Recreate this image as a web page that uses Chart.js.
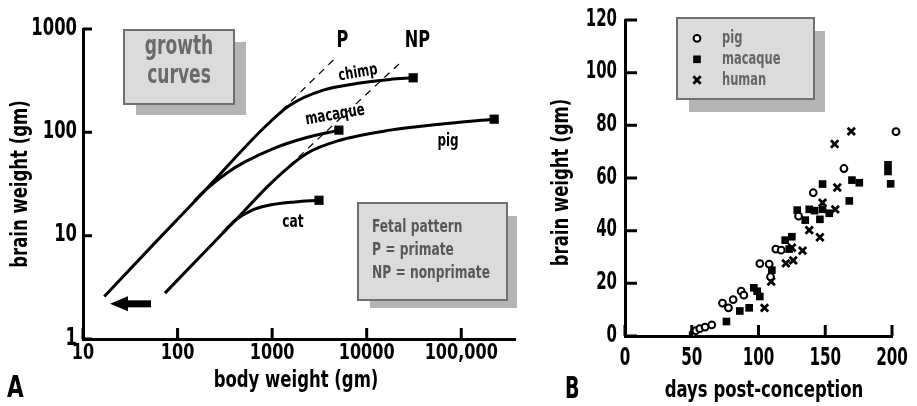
<!DOCTYPE html>
<html>
<head>
<meta charset="utf-8">
<script src="https://cdn.jsdelivr.net/npm/chart.js@4.4.1/dist/chart.umd.min.js"></script>
<style>
  html, body { margin: 0; padding: 0; background: #fff; }
  body { width: 917px; height: 406px; position: relative; overflow: hidden; }
  canvas { position: absolute; top: 0; }
  #chartA { left: 0; }
  #chartB { left: 540px; }
</style>
</head>
<body>
<canvas id="chartA" width="540" height="406"></canvas>
<canvas id="chartB" width="377" height="406"></canvas>
<script>
// heavy condensed face, squeezed a bit more to get the tall narrow look
const FONT = '"DejaVu Sans Condensed", "DejaVu Sans", sans-serif';

// ---- panel A : growth curves (log body weight vs log brain weight)
const xTicksA = [10, 100, 1000, 10000, 100000];
const xLabelsA = ['10', '100', '1000', '10000', '100,000'];
const yTicksA = [1, 10, 100, 1000];
const yLabelsA = ['1', '10', '100', '1000'];

const chimpBody = [16.8, 60, 195, 805, 1540, 3470, 7820, 17600, 31000];
const chimpBrain = [2.58, 8.85, 27.4, 109, 183, 256, 297, 325, 337];
const macaqueBody = [150, 195, 344, 515, 1030, 2320, 5080];
const macaqueBrain = [21.5, 27.4, 41.3, 51.7, 69.7, 89, 105];
const pigBody = [73.6, 180, 439, 1000, 2320, 5210, 17600, 59400, 223000];
const pigBrainA = [2.78, 6.5, 15.1, 33, 62.3, 83.8, 105, 120, 134];
const catBody = [300, 400, 607, 874, 1740, 3130];
const catBrain = [10.6, 13.9, 17.6, 19.5, 21.2, 22];
// fetal pattern extrapolations
const pBody = [805, 4610];
const pBrain = [109, 519];
const npBody = [948, 24300];
const npBrain = [31.9, 500];
// arrow, tail -> tip
const arrowBody = [52.4, 19.3];
const arrowBrain = [2.19, 2.19];

// ---- panel B : brain weight vs days post-conception
const xTicksB = [0, 50, 100, 150, 200];
const xLabelsB = ['0', '50', '100', '150', '200'];
const yTicksB = [0, 20, 40, 60, 80, 100, 120];
const yLabelsB = ['0', '20', '40', '60', '80', '100', '120'];

const pigDays = [51, 53, 56, 60, 65, 73, 77.5, 81, 87, 89, 101, 108, 109, 113, 117, 130, 141, 164, 203];
const pigBrain = [1, 2, 2.8, 3.4, 4.2, 12.5, 10.7, 13.8, 17, 15.5, 27.5, 27.3, 22.5, 33, 32.6, 45.5, 54.4, 63.6, 77.6];
const macDays = [76, 86, 93, 96.5, 99, 101, 110, 120, 123, 125, 129, 135, 138, 142, 146, 148, 148, 153, 168, 170, 175.5, 197, 197, 199];
const macBrain = [5.5, 9.5, 10.7, 18.3, 17, 15, 25, 36.4, 33, 37.7, 47.8, 44, 48.1, 47.6, 44.3, 57.7, 48.1, 46.6, 51.3, 59.2, 58.2, 62.5, 65, 57.8];
const humanDays = [104.5, 109.5, 120.5, 125, 126, 133, 138, 146, 148, 157.5, 157, 159, 169.5];
const humanBrain = [10.7, 20.7, 27.6, 33.5, 28.7, 32.4, 40.2, 37.5, 50.6, 48.1, 72.9, 56.4, 77.7];

const pts = (xs, ys) => xs.map((x, i) => ({ x: x, y: ys[i] }));

function curve(label, xs, ys) {
  const last = xs.length - 1;
  return {
    label: label,
    data: pts(xs, ys),
    showLine: true,
    borderColor: '#000',
    backgroundColor: '#000',
    borderWidth: 3,
    cubicInterpolationMode: 'monotone',
    pointStyle: 'rect',
    pointRadius: c => (c.dataIndex === last ? 6.5 : 0),
    pointBorderWidth: 0
  };
}

function dashed(label, xs, ys) {
  return {
    label: label,
    data: pts(xs, ys),
    showLine: true,
    borderColor: '#000',
    borderWidth: 1.2,
    borderDash: [7, 6],
    pointRadius: 0
  };
}

// squeezed bold text
function txt(ctx, s, x, y, size, sx, opt) {
  opt = opt || {};
  ctx.save();
  ctx.font = 'bold ' + size + 'px ' + FONT;
  ctx.fillStyle = opt.color || '#000';
  ctx.textAlign = opt.align || 'center';
  ctx.textBaseline = opt.base || 'alphabetic';
  ctx.translate(x, y);
  if (opt.rot) ctx.rotate(opt.rot);
  ctx.scale(sx, 1);
  ctx.fillText(s, 0, 0);
  ctx.restore();
}

// inward tick marks + tick labels + axis titles, all placed by the chart scales
function axisDecor(c) {
  return {
    id: 'axisDecor',
    afterDraw(chart) {
      const { ctx, chartArea: a, scales } = chart;
      ctx.save();
      ctx.strokeStyle = '#000';
      ctx.lineWidth = 3;
      ctx.beginPath();
      c.xTicks.forEach(v => {
        const px = scales.x.getPixelForValue(v);
        ctx.moveTo(px, a.bottom);
        ctx.lineTo(px, a.bottom - c.xLen);
      });
      c.yTicks.forEach(v => {
        const py = scales.y.getPixelForValue(v);
        ctx.moveTo(a.left, py);
        ctx.lineTo(a.left + c.yLen, py);
      });
      ctx.stroke();
      ctx.restore();
      c.xTicks.forEach((v, i) => {
        txt(ctx, c.xLabels[i], scales.x.getPixelForValue(v), c.xBase, c.xSize, c.xSx);
      });
      c.yTicks.forEach((v, i) => {
        txt(ctx, c.yLabels[i], a.left - c.yPad, scales.y.getPixelForValue(v) - 1, c.ySize, c.ySx,
            { align: 'right', base: 'middle' });
      });
      txt(ctx, c.xTitle, (a.left + a.right) / 2 + c.xTitleDx, c.xTitleBase, 23.5, 0.78);
      txt(ctx, c.yTitle, c.yTitleBase, (a.top + a.bottom) / 2 + c.yTitleDy, 23.5, 0.78,
          { rot: -Math.PI / 2 });
    }
  };
}

function shadowBox(ctx, x1, y1, x2, y2, sx2, sy2, dx, dy) {
  ctx.fillStyle = '#b4b4b4';
  ctx.fillRect(x1 + dx, y1 + dy, sx2 - x1 - dx, sy2 - y1 - dy);
  ctx.fillStyle = '#dbdbdb';
  ctx.fillRect(x1, y1, x2 - x1, y2 - y1);
  ctx.strokeStyle = '#707070';
  ctx.lineWidth = 2;
  ctx.strokeRect(x1, y1, x2 - x1, y2 - y1);
}

const notesA = {
  id: 'notesA',
  afterDraw(chart) {
    const { ctx, scales } = chart;
    // growth curves box
    shadowBox(ctx, 124, 30, 234, 104, 246, 115, 12, 12);
    txt(ctx, 'growth', 179, 47, 26, 0.73, { color: '#6a6a6a', base: 'middle' });
    txt(ctx, 'curves', 179, 76, 26, 0.73, { color: '#6a6a6a', base: 'middle' });
    // fetal pattern box
    shadowBox(ctx, 358, 203, 507, 300, 517, 308, 12, 13);
    const g = { color: '#585858', align: 'left' };
    txt(ctx, 'Fetal pattern', 372, 232, 17, 0.8, g);
    txt(ctx, 'P = primate', 372, 255, 17, 0.8, g);
    txt(ctx, 'NP = nonprimate', 372, 278, 17, 0.8, g);
    // curve labels
    txt(ctx, 'P', 342.5, 47, 23, 0.78);
    txt(ctx, 'NP', 417.5, 47, 23, 0.78);
    txt(ctx, 'pig', 448, 142, 17, 0.78, { base: 'middle' });
    txt(ctx, 'cat', 293, 223, 17, 0.8, { base: 'middle' });
    txt(ctx, 'chimp', 358, 73, 16.5, 0.78, { base: 'middle', rot: -0.165 });
    txt(ctx, 'macaque', 335, 115, 17, 0.77, { base: 'middle', rot: -0.17 });
    // arrow
    const tx = scales.x.getPixelForValue(arrowBody[0]);
    const hx = scales.x.getPixelForValue(arrowBody[1]);
    const ay = scales.y.getPixelForValue(arrowBrain[0]);
    ctx.save();
    ctx.fillStyle = '#000';
    ctx.fillRect(hx + 14, ay - 3.5, tx - hx - 14, 7);
    ctx.beginPath();
    ctx.moveTo(hx, ay);
    ctx.lineTo(hx + 18, ay - 7.5);
    ctx.lineTo(hx + 18, ay + 7.5);
    ctx.closePath();
    ctx.fill();
    ctx.restore();
    // panel letter
    txt(ctx, 'A', 7, 397, 30, 0.8, { align: 'left' });
  }
};

const notesB = {
  id: 'notesB',
  afterDraw(chart) {
    const { ctx } = chart;
    ctx.save();
    shadowBox(ctx, 137, 18, 274, 99, 285, 112, 12, 13);
    const rows = [38.3, 59.3, 80];
    chart.data.datasets.forEach((ds, i) => {
      ctx.fillStyle = ds.backgroundColor;
      ctx.strokeStyle = ds.borderColor;
      ctx.lineWidth = ds.pointBorderWidth;
      Chart.helpers.drawPoint(ctx, {
        pointStyle: ds.pointStyle,
        radius: ds.pointRadius,
        borderWidth: ds.pointBorderWidth,
        rotation: 0
      }, 157, rows[i]);
      txt(ctx, ds.label, 182, rows[i] + 4.5, 18, 0.71, { color: '#666', align: 'left' });
    });
    ctx.restore();
    txt(ctx, 'B', 25, 398, 29.5, 0.72, { align: 'left' });
  }
};

const hidden = { display: false };
const axisLine = { display: true, color: '#000', width: 3 };

new Chart(document.getElementById('chartA'), {
  type: 'scatter',
  data: {
    datasets: [
      curve('chimp', chimpBody, chimpBrain),
      curve('macaque', macaqueBody, macaqueBrain),
      curve('pig', pigBody, pigBrainA),
      curve('cat', catBody, catBrain),
      dashed('P', pBody, pBrain),
      dashed('NP', npBody, npBrain)
    ]
  },
  options: {
    responsive: false,
    animation: false,
    devicePixelRatio: 1,
    events: [],
    layout: { padding: { top: 29, right: 25, bottom: 0, left: 0 } },
    plugins: { legend: hidden, tooltip: { enabled: false } },
    scales: {
      x: {
        type: 'logarithmic',
        min: 10,
        max: 370000,
        afterBuildTicks: s => { s.ticks = xTicksA.map(v => ({ value: v })); },
        afterFit: s => { s.height = 67; },
        grid: hidden,
        border: axisLine,
        ticks: hidden
      },
      y: {
        type: 'logarithmic',
        min: 1,
        max: 1000,
        afterBuildTicks: s => { s.ticks = yTicksA.map(v => ({ value: v })); },
        afterFit: s => { s.width = 83; },
        grid: hidden,
        border: axisLine,
        ticks: hidden
      }
    }
  },
  plugins: [axisDecor({
    xTicks: xTicksA, xLabels: xLabelsA, xLen: 11, xBase: 358.5, xSize: 21, xSx: 0.85,
    yTicks: yTicksA, yLabels: yLabelsA, yLen: 9, yPad: 6, ySize: 25, ySx: 0.73,
    xTitle: 'body weight (gm)', xTitleDx: -3, xTitleBase: 387,
    yTitle: 'brain weight (gm)', yTitleDy: 0, yTitleBase: 26.5
  }), notesA]
});

new Chart(document.getElementById('chartB'), {
  type: 'scatter',
  data: {
    datasets: [
      { label: 'pig', data: pts(pigDays, pigBrain), pointStyle: 'circle', pointRadius: 3.4,
        pointBorderWidth: 2, borderColor: '#000', backgroundColor: '#fff', clip: false },
      { label: 'macaque', data: pts(macDays, macBrain), pointStyle: 'rect', pointRadius: 5.4,
        pointBorderWidth: 0, borderColor: '#000', backgroundColor: '#000', clip: false },
      { label: 'human', data: pts(humanDays, humanBrain), pointStyle: 'crossRot', pointRadius: 5.2,
        pointBorderWidth: 2.8, borderColor: '#000', backgroundColor: '#000', clip: false }
    ]
  },
  options: {
    responsive: false,
    animation: false,
    devicePixelRatio: 1,
    events: [],
    layout: { padding: { top: 20, right: 25, bottom: 0, left: 0 } },
    plugins: { legend: hidden, tooltip: { enabled: false } },
    scales: {
      x: {
        type: 'linear',
        min: 0,
        max: 200,
        afterBuildTicks: s => { s.ticks = xTicksB.map(v => ({ value: v })); },
        afterFit: s => { s.height = 70; },
        grid: hidden,
        border: axisLine,
        ticks: hidden
      },
      y: {
        type: 'linear',
        min: 0,
        max: 120,
        afterBuildTicks: s => { s.ticks = yTicksB.map(v => ({ value: v })); },
        afterFit: s => { s.width = 85; },
        grid: hidden,
        border: axisLine,
        ticks: hidden
      }
    }
  },
  plugins: [axisDecor({
    xTicks: xTicksB, xLabels: xLabelsB, xLen: 11, xBase: 364.5, xSize: 25, xSx: 0.675,
    yTicks: yTicksB, yLabels: yLabelsB, yLen: 12, yPad: 8, ySize: 25, ySx: 0.665,
    xTitle: 'days post-conception', xTitleDx: 5.5, xTitleBase: 396.5,
    yTitle: 'brain weight (gm)', yTitleDy: 4.5, yTitleBase: 28.3
  }), notesB]
});
</script>
</body>
</html>
